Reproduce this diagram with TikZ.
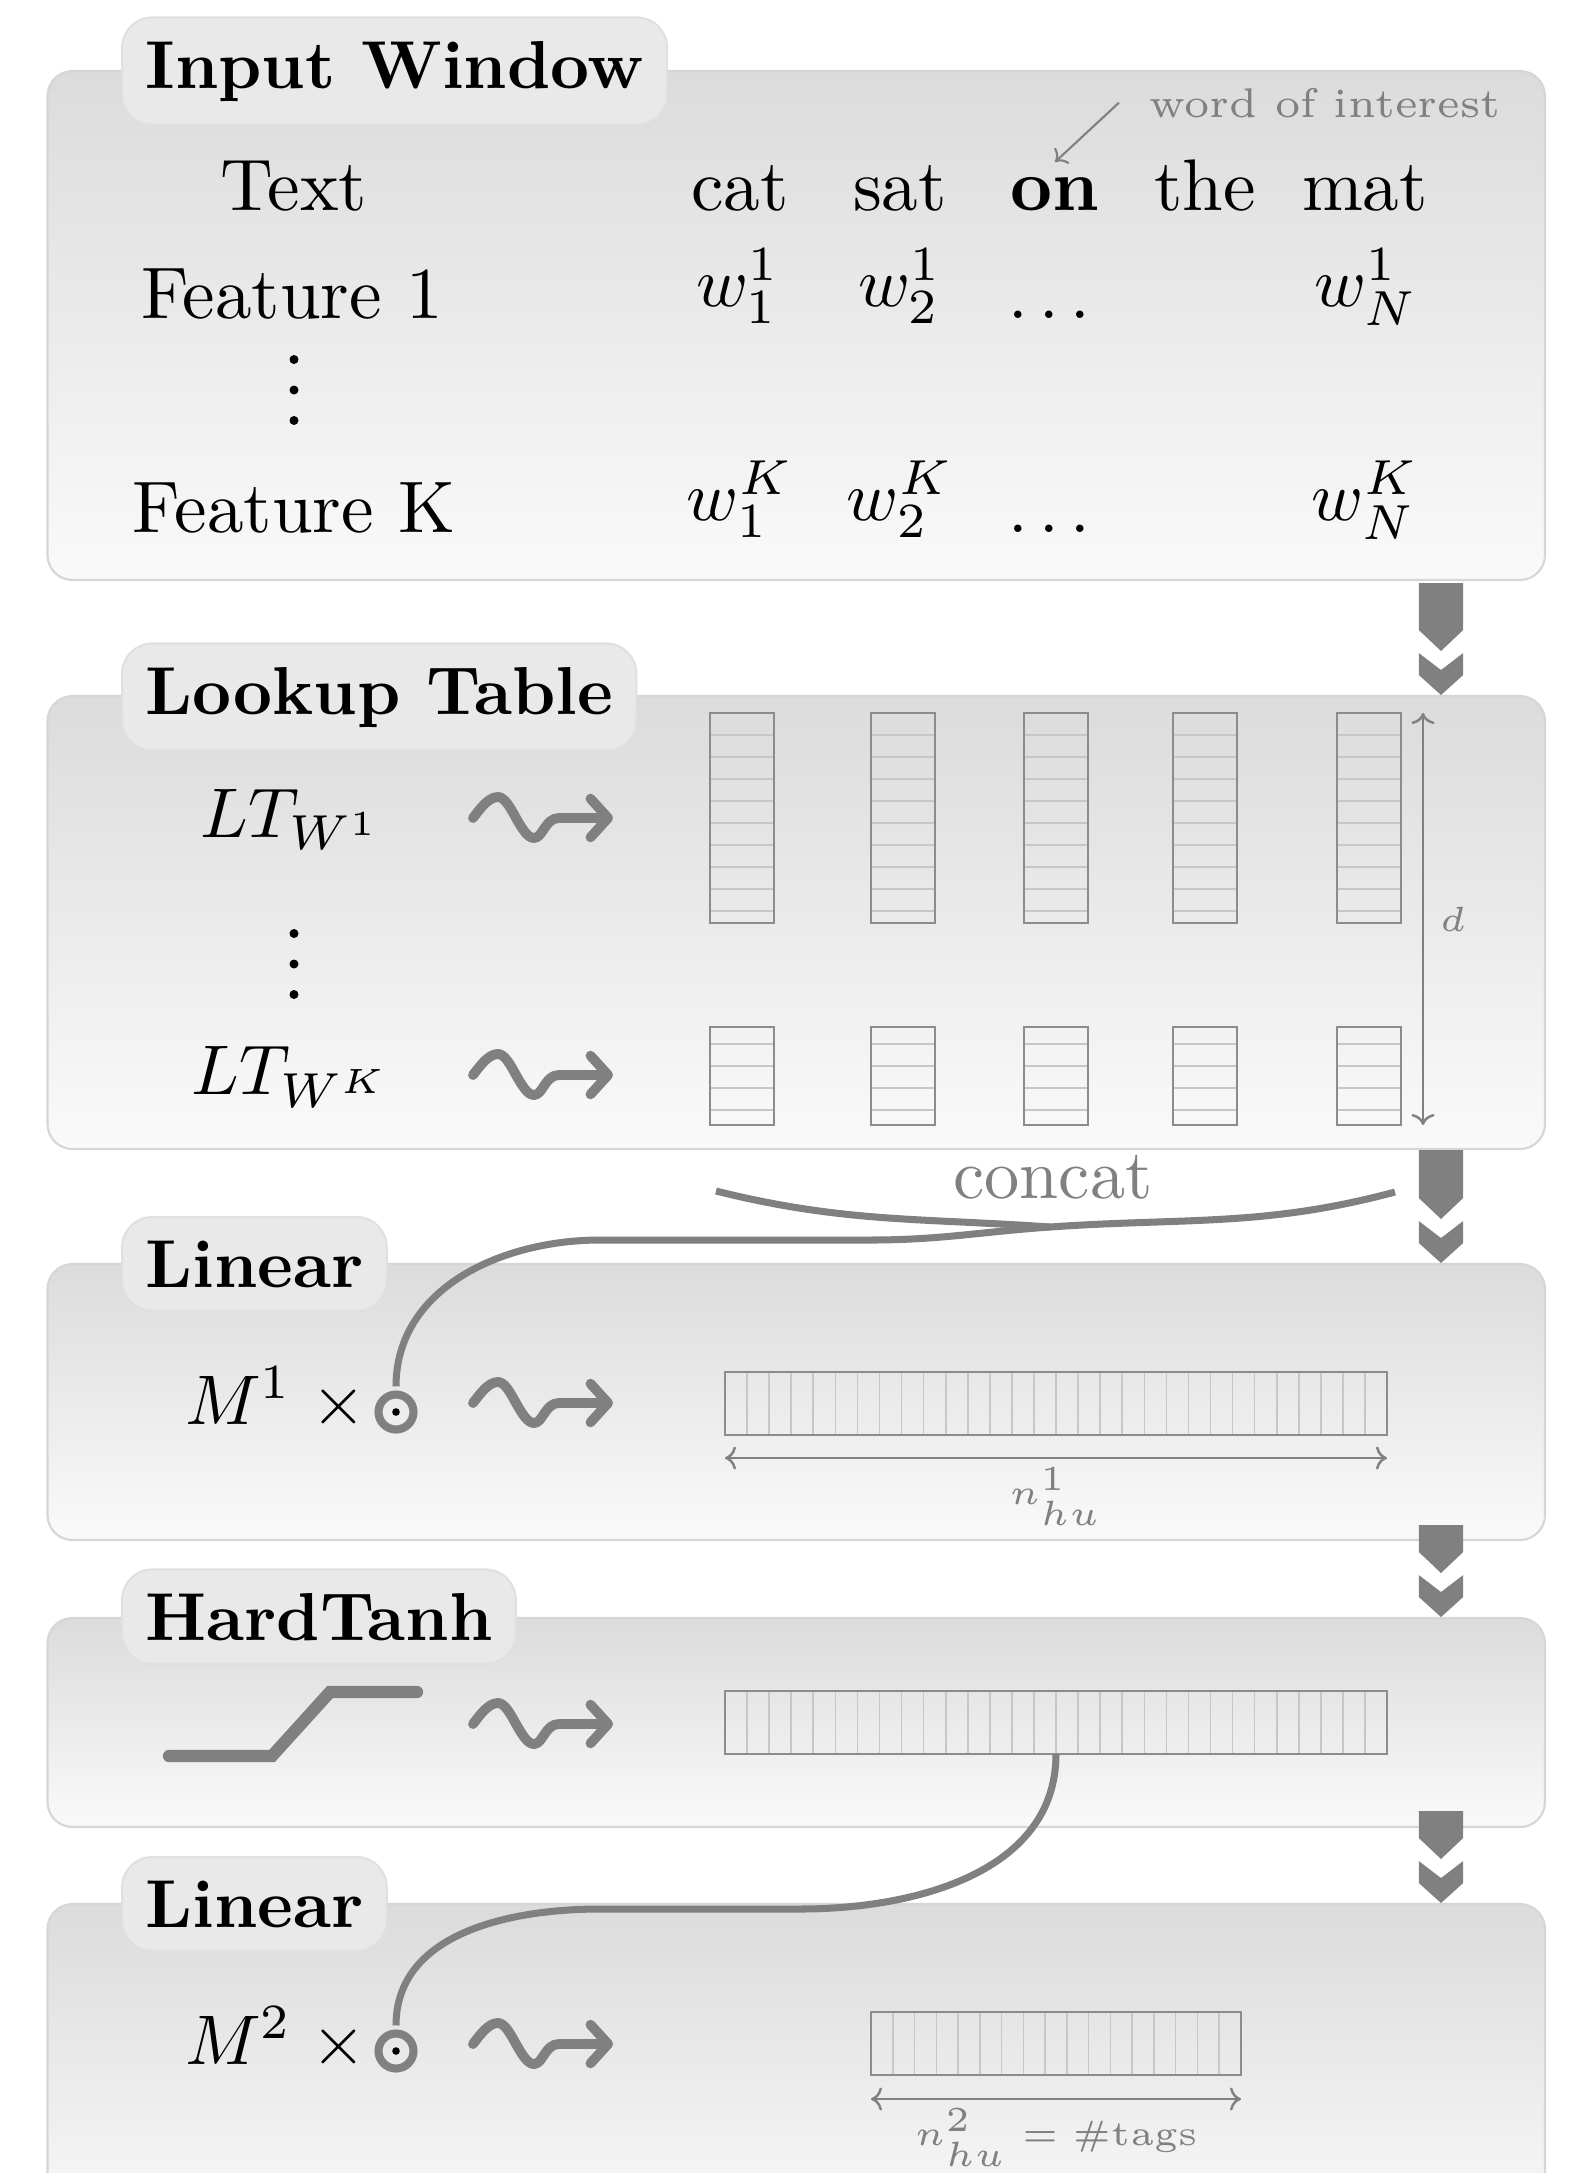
\documentclass[tikz,border=0pt]{standalone}
\usetikzlibrary{arrows.meta}
\begin{document}
\begin{tikzpicture}[every node/.style={scale=2, font=\fontsize{10.4}{12.5}\selectfont}, every pic/.style={scale=0.5},
panel/.style={draw=black!16, line width=0.6pt, rounded corners=0.25cm, top color=black!14, bottom color=black!2},
tabbox/.style={draw=black!12, fill=black!8.5, line width=0.6pt, rounded corners=0.3cm, anchor=base west, font=\fontsize{9.65}{11}\selectfont\bfseries},
cellbox/.style={draw=black!45, line width=0.8pt},
cellline/.style={draw=black!22, line width=0.45pt},
link/.style={draw=gray, line width=2pt},
dimline/.style={draw=gray, line width=0.7pt, <->},
dimlabel/.style={font=\tiny, text=gray, inner sep=1pt},
odot/.style={circle, draw=gray, line width=2.3pt, minimum size=1.75mm, inner sep=0pt},
pics/flow/.style={code={
\fill[gray] (0,0) -- (0.222,0.20) -- (0.222,0.42) -- (0,0.25) -- (-0.222,0.42) -- (-0.222,0.20) -- cycle;
\fill[gray] (0,0.44) -- (0.222,0.65) -- (0.222,#1) -- (-0.222,#1) -- (-0.222,0.65) -- cycle;
}},
pics/squig/.style={code={
\draw[gray, line width=2.8pt, line cap=round, line join=round, -{Straight Barb[length=5pt,width=11pt,round]}] (0,0) sin (0.25,0.21) cos (0.43,0) sin (0.61,-0.20) .. controls (0.70,-0.20) and (0.72,0) .. (0.86,0) -- (1.40,0);
}},
pics/vdotcol/.style={code={
\foreach \d in {-0.305,0,0.305} \fill (0,\d) circle (0.045);
}}]
\useasboundingbox (0,0) rectangle (15.69,-21.73);
\clip (0,0) rectangle (15.69,-21.73);
\draw[panel] (0.475,-0.71) rectangle (15.45,-5.80);
\draw[panel] (0.475,-6.96) rectangle (15.45,-11.49);
\draw[panel] (0.475,-12.64) rectangle (15.45,-15.40);
\draw[panel] (0.475,-16.18) rectangle (15.45,-18.27);
\draw[panel] (0.475,-19.04) rectangle (15.45,-22.40);
\pic at (14.41,-6.95) {flow=1.12};
\pic at (14.41,-12.63) {flow=1.13};
\pic at (14.41,-16.17) {flow=0.92};
\pic at (14.41,-19.03) {flow=0.92};
\node[tabbox] (tabin) at (1.20,-0.88) {Input Window};
\node[tabbox] (tablt) at (1.20,-7.14) {Lookup Table};
\node[tabbox] (tablin1) at (1.20,-12.87) {Linear};
\node[tabbox] (tabht) at (1.20,-16.40) {HardTanh};
\node[tabbox] (tablin2) at (1.20,-19.27) {Linear};
% input window
\node[anchor=base] (txt) at (2.94,-2.10) {Text};
\node[anchor=base] (feat1) at (2.92,-3.18) {Feature 1};
\pic at (2.94,-3.90) {vdotcol};
\node[anchor=base] (featk) at (2.94,-5.32) {Feature K};
\node[anchor=base] (word1) at (7.40,-2.10) {cat};
\node[anchor=base] (word2) at (9.00,-2.10) {sat};
\node[anchor=base] (word3) at (10.55,-2.10) {\textbf{on}};
\node[anchor=base] (word4) at (12.05,-2.10) {the};
\node[anchor=base] (word5) at (13.65,-2.10) {mat};
\node[anchor=base] (w11) at (7.38,-3.06) {$w_1^1$};
\node[anchor=base] (w21) at (9.00,-3.06) {$w_2^1$};
\node[anchor=base] (wd1) at (10.49,-3.18) {$\dots$};
\node[anchor=base] (wN1) at (13.66,-3.06) {$w_N^1$};
\node[anchor=base] (w1K) at (7.40,-5.20) {$w_1^K$};
\node[anchor=base] (w2K) at (9.00,-5.20) {$w_2^K$};
\node[anchor=base] (wdK) at (10.49,-5.32) {$\dots$};
\node[anchor=base] (wNK) at (13.65,-5.20) {$w_N^K$};
\node[anchor=base west, font=\fontsize{5.9}{7}\selectfont, text=gray] (woi) at (11.25,-1.17) {word of interest};
\draw[gray, line width=0.6pt, ->] ([xshift=-0.6mm]woi.west) -- ([yshift=-1mm]word3.north);
% lookup table
\node[anchor=base] (lt1) at (2.91,-8.37) {$LT_{W^1}$};
\pic at (2.94,-9.64) {vdotcol};
\node[anchor=base] (ltk) at (2.91,-10.94) {$LT_{W^K}$};
\pic at (4.73,-8.18) {squig};
\pic at (4.73,-10.75) {squig};
\foreach \x in {7.10,8.71,10.24,11.73,13.37} {
\foreach \k in {1,...,9} \draw[cellline] (\x,-7.13-0.22*\k) -- ++(0.64,0);
\draw[cellbox] (\x,-7.13) rectangle ++(0.64,-2.10);
\foreach \k in {1,...,4} \draw[cellline] (\x,-10.22-0.22*\k) -- ++(0.64,0);
\draw[cellbox] (\x,-10.27) rectangle ++(0.64,-0.98);
}
\coordinate (dtop) at (14.23,-7.13);
\coordinate (dbot) at (14.23,-11.25);
\draw[dimline] (dtop) -- node[right, dimlabel, inner sep=2pt] (dlbl) {$d$} (dbot);
% concat
\node[anchor=base, text=gray, font=\fontsize{10}{12}\selectfont] (concat) at (10.53,-11.98) {concat};
\coordinate (catL) at (7.16,-11.91);
\coordinate (catR) at (13.95,-11.92);
\coordinate (catJ) at (10.50,-12.27);
\coordinate (bend1) at (8.70,-12.40);
\coordinate (knee1) at (6.00,-12.40);
% linear 1
\node[odot] (m1) at (3.96,-14.12) {};
\fill (m1.center) circle (0.038);
\node[anchor=base east, inner sep=0pt] (mul1) at (3.68,-14.24) {$M^1\;\times$};
\draw[link] (catL) to[out=-14,in=176] (catJ);
\draw[link] (m1.north) to[out=90,in=180] (knee1) -- (bend1) to[out=0,in=184] (catJ) to[out=4,in=195] (catR);
\pic at (4.73,-14.03) {squig};
\foreach \k in {1,...,29} \draw[cellline] (7.25+0.2207*\k,-13.72) -- ++(0,-0.63);
\draw[cellbox] (7.25,-13.72) rectangle (13.87,-14.35);
\coordinate (h1l) at (7.25,-14.58);
\coordinate (h1r) at (13.87,-14.58);
\draw[dimline] (h1l) -- node[below, dimlabel] (h1lbl) {$n^1_{hu}$} (h1r);
% hardtanh
\draw[gray, line width=3.5pt, line cap=round] (1.69,-17.56) -- (2.72,-17.56) -- (3.30,-16.92) -- (4.17,-16.92);
\pic at (4.73,-17.24) {squig};
\foreach \k in {1,...,29} \draw[cellline] (7.25+0.2207*\k,-16.91) -- ++(0,-0.63);
\draw[cellbox] (7.25,-16.91) rectangle (13.87,-17.54);
\coordinate (htout) at (10.56,-17.54);
% linear 2
\coordinate (bend2) at (8.00,-19.09);
\coordinate (knee2) at (6.00,-19.09);
\node[odot] (m2) at (3.96,-20.51) {};
\fill (m2.center) circle (0.038);
\node[anchor=base east, inner sep=0pt] (mul2) at (3.68,-20.64) {$M^2\;\times$};
\draw[link] (htout) to[out=-90,in=0] (bend2) -- (knee2) to[out=180,in=90] (m2.north);
\pic at (4.73,-20.44) {squig};
\foreach \k in {1,...,16} \draw[cellline] (8.71+0.2176*\k,-20.12) -- ++(0,-0.63);
\draw[cellbox] (8.71,-20.12) rectangle (12.41,-20.75);
\coordinate (h2l) at (8.71,-20.99);
\coordinate (h2r) at (12.41,-20.99);
\draw[dimline] (h2l) -- node[below, dimlabel] (h2lbl) {$n^2_{hu}=\#\mathrm{tags}$} (h2r);
\end{tikzpicture}
\end{document}
